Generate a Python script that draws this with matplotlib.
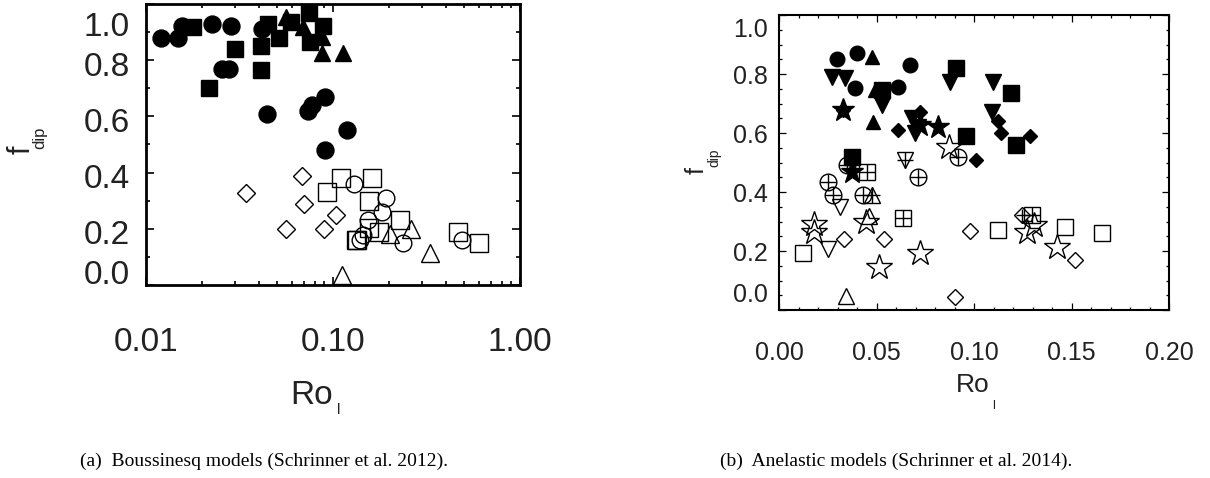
import numpy as np
import matplotlib
matplotlib.use('Agg')
import matplotlib.pyplot as plt
from matplotlib.ticker import MultipleLocator, FixedLocator, NullFormatter
from matplotlib.transforms import blended_transform_factory, ScaledTranslation

plt.rcParams['font.family'] = ['Liberation Sans', 'DejaVu Sans']

# ---------------- (a) Boussinesq models (log Ro_l) ----------------
bq_fcirc_ro = [0.0120, 0.0148, 0.0156, 0.0225, 0.0285, 0.0255, 0.0278, 0.0444, 0.0417,
               0.0734, 0.0773, 0.0906, 0.119, 0.0906]
bq_fcirc_f = [0.88, 0.88, 0.92, 0.93, 0.92, 0.77, 0.77, 0.61, 0.91, 0.62, 0.64, 0.67, 0.55, 0.48]

bq_fsq_ro = [0.0178, 0.0299, 0.0217, 0.0412, 0.0412, 0.0449, 0.0514, 0.0596, 0.0745, 0.0884, 0.0757]
bq_fsq_f = [0.918, 0.840, 0.701, 0.851, 0.765, 0.929, 0.879, 0.936, 0.968, 0.922, 0.865]

bq_ftri_ro = [0.0560, 0.0691, 0.0873, 0.1130, 0.0873]
bq_ftri_f = [0.954, 0.918, 0.826, 0.826, 0.883]

bq_odia_ro = [0.0343, 0.0683, 0.0700, 0.0561, 0.0895, 0.1038]
bq_odia_f = [0.327, 0.388, 0.288, 0.199, 0.199, 0.249]

bq_osq_ro = [0.1104, 0.1619, 0.0929, 0.1560, 0.2281, 0.1560, 0.1762, 0.1343, 0.1330, 0.4657, 0.604]
bq_osq_f = [0.381, 0.381, 0.331, 0.299, 0.231, 0.203, 0.189, 0.160, 0.160, 0.189, 0.149]

bq_ocirc_ro = [0.1294, 0.1918, 0.1828, 0.1538, 0.1444, 0.1394, 0.2365, 0.4897]
bq_ocirc_f = [0.359, 0.310, 0.260, 0.231, 0.178, 0.160, 0.149, 0.160]

bq_otri_ro = [0.2612, 0.2018, 0.3304, 0.1117]
bq_otri_f = [0.199, 0.181, 0.114, 0.036]

# ---------------- (b) Anelastic models (linear Ro_l) ----------------
an_fcirc_ro = [0.0297, 0.0399, 0.0389, 0.0609, 0.0670]
an_fcirc_f = [0.851, 0.871, 0.753, 0.756, 0.831]

an_ftri_ro = [0.0476, 0.0481, 0.0490]
an_ftri_f = [0.858, 0.637, 0.745]

an_fdown_ro = [0.0271, 0.0338, 0.0527, 0.0680, 0.0711, 0.0696, 0.0875, 0.1095, 0.1090]
an_fdown_f = [0.790, 0.786, 0.695, 0.651, 0.620, 0.600, 0.773, 0.773, 0.671]

an_fsq_ro = [0.0530, 0.0910, 0.1192, 0.0957, 0.1217, 0.0373]
an_fsq_f = [0.746, 0.820, 0.736, 0.590, 0.559, 0.519]

an_fdia_ro = [0.0327, 0.0609, 0.0721, 0.1125, 0.1141, 0.1289, 0.1008]
an_fdia_f = [0.678, 0.610, 0.671, 0.641, 0.600, 0.590, 0.508]

an_fstar_ro = [0.0813, 0.0721, 0.0373, 0.0327]
an_fstar_f = [0.620, 0.627, 0.468, 0.678]

an_ocplus_ro = [0.0251, 0.0276, 0.0348, 0.0430, 0.0711, 0.0916]
an_ocplus_f = [0.434, 0.390, 0.492, 0.390, 0.451, 0.519]

an_osqplus_ro = [0.0450, 0.0634, 0.1299]
an_osqplus_f = [0.468, 0.312, 0.322]

an_odiaplus_ro = [0.1248]
an_odiaplus_f = [0.322]

an_otriplus_ro = [0.0476]
an_otriplus_f = [0.390]

an_odownplus_ro = [0.0645]
an_odownplus_f = [0.508]

an_odown_ro = [0.0312, 0.0251]
an_odown_f = [0.349, 0.207]

an_ostar_ro = [0.0179, 0.0179, 0.0445, 0.0512, 0.0721, 0.0874, 0.1274, 0.1309, 0.1427]
an_ostar_f = [0.292, 0.264, 0.298, 0.146, 0.193, 0.553, 0.264, 0.288, 0.214]

an_odia_ro = [0.0332, 0.0537, 0.0982, 0.1519, 0.0900]
an_odia_f = [0.241, 0.241, 0.268, 0.169, 0.044]

an_osq_ro = [0.0123, 0.1125, 0.1468, 0.1657]
an_osq_f = [0.193, 0.271, 0.281, 0.261]

an_otri_ro = [0.0343, 0.0460]
an_otri_f = [0.047, 0.319]

ylab_vals = [0.0, 0.2, 0.4, 0.6, 0.8, 1.0]

W, H = 1210, 478
fig = plt.figure(figsize=(W / 100, H / 100), dpi=100)


def px_axes(x0, y0, x1, y1):
    return fig.add_axes([x0 / W, 1 - y1 / H, (x1 - x0) / W, (y1 - y0) / H])


def pts(ax, x, y, marker, ms, filled=True, plus=False, mew=1.0):
    ax.plot(x, y, ls='none', marker=marker, ms=ms, mfc='k' if filled else 'none',
            mec='k', mew=mew, clip_on=False, zorder=3)
    if plus:
        ax.plot(x, y, ls='none', marker='+', ms=ms, mec='k', mew=mew, clip_on=False, zorder=3)


def ylabels(ax, size, pad_px, offsets):
    tr = blended_transform_factory(ax.transAxes, ax.transData)
    for v, off in zip(ylab_vals, offsets):
        t = tr + ScaledTranslation(-pad_px / 100, -off / 100, fig.dpi_scale_trans)
        ax.text(0, v, f'{v:.1f}', transform=t, ha='right', va='center', fontsize=size, color='#222222')


def style(ax, lw, major, minor):
    for s in ax.spines.values():
        s.set_linewidth(lw)
    ax.tick_params(which='both', direction='in', top=True, right=True, width=lw * 0.6)
    ax.tick_params(which='major', length=major)
    ax.tick_params(which='minor', length=minor)
    ax.set_yticks(ylab_vals)
    ax.set_yticklabels([])


# ---- panel (a)
axA = px_axes(146, 4, 520, 285)
axA.set_xscale('log')
axA.set_xlim(0.01, 1.0)
axA.set_ylim(0, 1)
style(axA, 2.0, 6, 3)
axA.yaxis.set_minor_locator(MultipleLocator(0.1))
axA.set_xticks([0.01, 0.1, 1.0])
axA.set_xticklabels(['0.01', '0.10', '1.00'], fontsize=24, color='#222222')
axA.xaxis.set_minor_locator(FixedLocator([k * d for d in (0.01, 0.1) for k in range(2, 10)]))
axA.xaxis.set_minor_formatter(NullFormatter())
axA.tick_params(axis='x', which='major', pad=30)
ylabels(axA, 24, 16, [-10, 7, 7, 7, 7, 23])

pts(axA, bq_fcirc_ro, bq_fcirc_f, 'o', 12.2)
pts(axA, bq_fsq_ro, bq_fsq_f, 's', 12)
pts(axA, bq_ftri_ro, bq_ftri_f, '^', 12)
pts(axA, bq_odia_ro, bq_odia_f, 'D', 9, filled=False)
pts(axA, bq_osq_ro, bq_osq_f, 's', 12.5, filled=False)
pts(axA, bq_ocirc_ro, bq_ocirc_f, 'o', 12, filled=False)
pts(axA, bq_otri_ro, bq_otri_f, '^', 12.5, filled=False)

fig.text(312 / W, 1 - 395 / H, 'Ro', fontsize=24, ha='center', va='center', color='#222222')
fig.text(339 / W, 1 - 410 / H, 'l', fontsize=11, ha='center', va='center', color='#222222')
fig.text(22 / W, 1 - 150 / H, 'f', fontsize=22, rotation=90, ha='center', va='center', color='#222222')
fig.text(40 / W, 1 - 138 / H, 'dip', fontsize=12, rotation=90, ha='center', va='center', color='#222222')
fig.text(80 / W, 1 - 461 / H, '(a)  Boussinesq models (Schrinner et al. 2012).',
         family=['Liberation Serif', 'DejaVu Serif'], fontsize=14, va='center')

# ---- panel (b)
axB = px_axes(779, 15, 1169, 310)
axB.set_xlim(0, 0.2)
axB.set_ylim(0, 1)
style(axB, 1.5, 5, 2.5)
axB.yaxis.set_minor_locator(MultipleLocator(0.05))
axB.set_xticks([0.0, 0.05, 0.10, 0.15, 0.20])
axB.set_xticklabels(['0.00', '0.05', '0.10', '0.15', '0.20'], fontsize=18, color='#222222')
axB.xaxis.set_minor_locator(MultipleLocator(0.01))
axB.tick_params(axis='x', which='major', pad=22)
ylabels(axB, 18, 11, [-15, 3, 3, 3, 3, 15])

pts(axB, an_fcirc_ro, an_fcirc_f, 'o', 10.5)
pts(axB, an_ftri_ro, an_ftri_f, '^', 10.5)
pts(axB, an_fdown_ro, an_fdown_f, 'v', 11)
pts(axB, an_fsq_ro, an_fsq_f, 's', 11.5)
pts(axB, an_fdia_ro, an_fdia_f, 'D', 7.5)
pts(axB, an_fstar_ro, an_fstar_f, '*', 17)
pts(axB, an_ocplus_ro, an_ocplus_f, 'o', 12, filled=False, plus=True)
pts(axB, an_osqplus_ro, an_osqplus_f, 's', 11.5, filled=False, plus=True)
pts(axB, an_odiaplus_ro, an_odiaplus_f, 'D', 8.5, filled=False, plus=True)
pts(axB, an_otriplus_ro, an_otriplus_f, '^', 12, filled=False, plus=True)
pts(axB, an_odownplus_ro, an_odownplus_f, 'v', 12, filled=False, plus=True)
pts(axB, an_odown_ro, an_odown_f, 'v', 12, filled=False)
pts(axB, an_ostar_ro, an_ostar_f, '*', 19, filled=False)
pts(axB, an_odia_ro, an_odia_f, 'D', 8.5, filled=False)
pts(axB, an_osq_ro, an_osq_f, 's', 12, filled=False)
pts(axB, an_otri_ro, an_otri_f, '^', 12, filled=False)

fig.text(973 / W, 1 - 385 / H, 'Ro', fontsize=19, ha='center', va='center', color='#222222')
fig.text(994 / W, 1 - 406 / H, 'l', fontsize=9, ha='center', va='center', color='#222222')
fig.text(697 / W, 1 - 170 / H, 'f', fontsize=18, rotation=90, ha='center', va='center', color='#222222')
fig.text(714 / W, 1 - 158 / H, 'dip', fontsize=10, rotation=90, ha='center', va='center', color='#222222')
fig.text(720 / W, 1 - 461 / H, '(b)  Anelastic models (Schrinner et al. 2014).',
         family=['Liberation Serif', 'DejaVu Serif'], fontsize=14, va='center')

fig.savefig('out.png', dpi=100)
